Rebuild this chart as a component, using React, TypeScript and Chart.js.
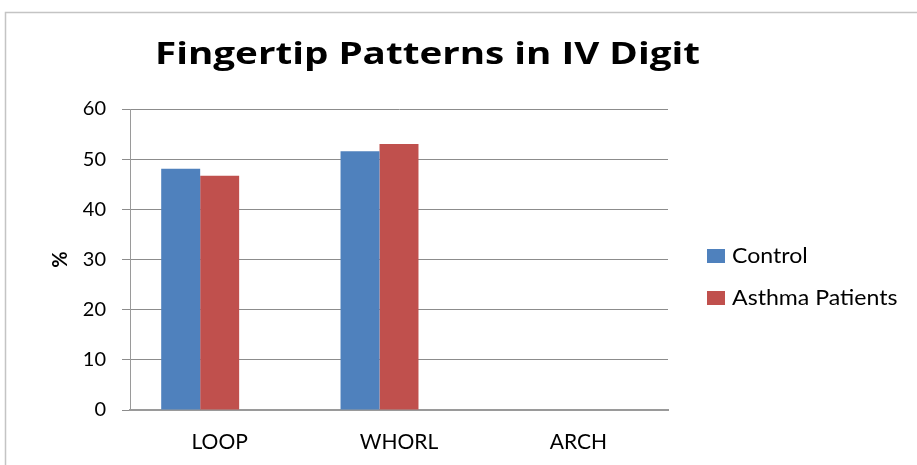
import React, { useEffect, useRef } from "react";
import { Chart, registerables } from "chart.js";

Chart.register(...registerables);

const categories = ["LOOP", "WHORL", "ARCH"];
const controlValues = [48.1, 51.6, 0];
const asthmaValues = [46.7, 53.0, 0];
const blankSeries = [null, null, null];
const seriesNames = ["Control", "Asthma Patients", ""];
const titleText = "Fingertip Patterns in IV Digit";
const yAxisTitle = "%";
const yMin = 0;
const yMax = 60;
const yStep = 10;

const FONT = "Lato, 'Open Sans', sans-serif";
const TITLE_FONT = "'Open Sans', sans-serif";

const framePlugin = {
  id: "frame",
  beforeDraw(chart: any) {
    const ctx = chart.ctx;
    ctx.save();
    ctx.fillStyle = "#ffffff";
    ctx.fillRect(0, 0, chart.width, chart.height);
    ctx.strokeStyle = "#c4c4c4";
    ctx.lineWidth = 1.5;
    ctx.beginPath();
    ctx.moveTo(5.5, chart.height);
    ctx.lineTo(5.5, 12.5);
    ctx.lineTo(chart.width, 12.5);
    ctx.stroke();
    ctx.restore();
  },
};

function stretchedText(ctx: any, text: string, cx: number, baseline: number, targetWidth: number) {
  const w = ctx.measureText(text).width;
  const sx = targetWidth / w;
  ctx.save();
  ctx.translate(cx, baseline);
  ctx.scale(sx, 1);
  ctx.textAlign = "center";
  ctx.textBaseline = "alphabetic";
  ctx.fillText(text, 0, 0);
  ctx.restore();
}

const titleLegendPlugin = {
  id: "titleLegend",
  afterDraw(chart: any) {
    const ctx = chart.ctx;
    ctx.save();
    ctx.fillStyle = "#000000";
    ctx.font = `bold 31px ${TITLE_FONT}`;
    stretchedText(ctx, titleText, 427.5, 64, 545);

    const items = chart.data.datasets.filter((d: any) => d.label);
    const x0 = 707;
    const baseline0 = 263;
    const gap = 42;
    const sx = 1.1;
    ctx.font = `21px ${FONT}`;
    ctx.textAlign = "left";
    ctx.textBaseline = "alphabetic";
    items.forEach((d: any, i: number) => {
      const b = baseline0 + i * gap;
      ctx.fillStyle = d.backgroundColor;
      ctx.fillRect(x0, b - 14, 18, 14);
      ctx.fillStyle = "#000000";
      ctx.save();
      ctx.translate(x0 + 25, b);
      ctx.scale(sx, 1);
      ctx.fillText(d.label, 0, 0);
      ctx.restore();
    });
    ctx.restore();
  },
};

export default function App() {
  const ref = useRef<HTMLCanvasElement | null>(null);

  useEffect(() => {
    if (!ref.current) return;
    const chart = new Chart(ref.current, {
      type: "bar",
      data: {
        labels: categories,
        datasets: [
          { label: seriesNames[0], data: controlValues, backgroundColor: "#4F81BD" },
          { label: seriesNames[1], data: asthmaValues, backgroundColor: "#C0504D" },
          { label: seriesNames[2], data: blankSeries as any, backgroundColor: "#9BBB59" },
        ],
      },
      options: {
        animation: false,
        responsive: false,
        devicePixelRatio: 1,
        layout: { padding: { top: 109, right: 249, bottom: 0, left: 0 } },
        datasets: {
          bar: { categoryPercentage: 0.652, barPercentage: 1 },
        },
        plugins: {
          legend: { display: false },
          title: { display: false },
          tooltip: { enabled: false },
        },
        scales: {
          x: {
            grid: { display: false, drawTicks: false },
            border: { display: true, color: "#9a9a9a", width: 2 },
            ticks: { color: "#000000", font: { family: FONT, size: 21 }, padding: 20 },
            afterFit: (s: any) => { s.height = 55; },
          },
          y: {
            min: yMin,
            max: yMax,
            ticks: { stepSize: yStep, color: "#000000", font: { family: FONT, size: 20 }, padding: 16 },
            grid: { color: "#8c8c8c", lineWidth: 1, tickLength: 8, drawTicks: true },
            border: { display: true, color: "#9a9a9a", width: 1 },
            title: {
              display: true,
              text: yAxisTitle,
              color: "#000000",
              font: { family: FONT, size: 20, weight: "bold" },
              padding: { top: 49, bottom: 0 },
            },
            afterFit: (s: any) => { s.width = 130; },
          },
        },
      },
      plugins: [framePlugin, titleLegendPlugin],
    });
    return () => chart.destroy();
  }, []);

  return (
    <div style={{ position: "fixed", left: 0, top: 0, width: 917, height: 465 }}>
      <canvas ref={ref} width={917} height={465} style={{ width: 917, height: 465 }} />
    </div>
  );
}
